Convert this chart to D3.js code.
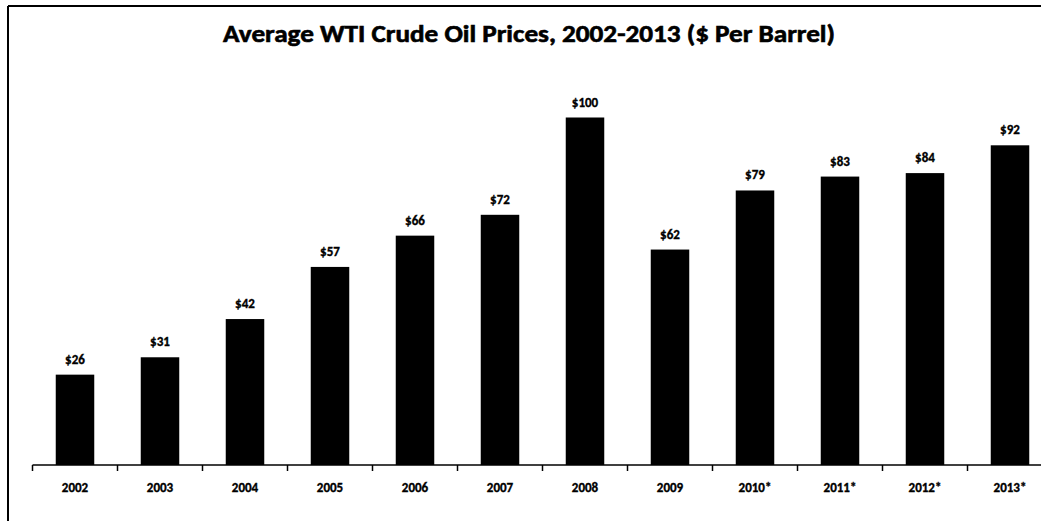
<!DOCTYPE html>
<html>
<head>
<meta charset="utf-8">
<script src="https://cdn.jsdelivr.net/npm/d3@7"></script>
<style>
  html, body { margin: 0; padding: 0; background: #fff; }
  svg { display: block; }
  text { font-family: Carlito, Lato, "Open Sans", sans-serif; font-weight: 700; fill: #000; stroke: #000; stroke-width: 0.35px; }
  text.title { stroke-width: 0.6px; }
</style>
</head>
<body>
<svg id="chart" width="1041" height="521"></svg>
<script>
// Yearly average WTI price, dollars per barrel
const years = ["2002", "2003", "2004", "2005", "2006", "2007", "2008", "2009", "2010*", "2011*", "2012*", "2013*"];
const prices = [26, 31, 42, 57, 66, 72, 100, 62, 79, 83, 84, 92];
const valueLabels = ["$26", "$31", "$42", "$57", "$66", "$72", "$100", "$62", "$79", "$83", "$84", "$92"];
const titleText = "Average WTI Crude Oil Prices, 2002-2013 ($ Per Barrel)";

const W = 1041, H = 521;
const baseY = 465;
const svg = d3.select("#chart");

// Frame: top and left rules
svg.append("line").attr("x1", 8).attr("x2", W).attr("y1", 6).attr("y2", 6)
  .attr("stroke", "#000").attr("stroke-width", 2);
svg.append("line").attr("x1", 8).attr("x2", 8).attr("y1", 6).attr("y2", H)
  .attr("stroke", "#000").attr("stroke-width", 2);

// Title
svg.append("text")
  .attr("class", "title")
  .attr("x", 223).attr("y", 42)
  .attr("font-size", 24)
  .attr("textLength", 612)
  .attr("lengthAdjust", "spacingAndGlyphs")
  .text(titleText);

const x = d3.scaleBand()
  .domain(years)
  .range([32.5, 1052.5])
  .paddingInner(0.547)
  .paddingOuter(0.2735);

const y = d3.scaleLinear().domain([0, 100]).range([baseY, 117.5]);

const data = years.map((yr, i) => ({ yr, v: prices[i], lab: valueLabels[i] }));

// Bars
svg.append("g").selectAll("rect").data(data).join("rect")
  .attr("x", d => x(d.yr))
  .attr("y", d => y(d.v))
  .attr("width", x.bandwidth())
  .attr("height", d => y(0) - y(d.v))
  .attr("fill", "#000");

// Value labels
svg.append("g").selectAll("text").data(data).join("text")
  .attr("x", d => x(d.yr) + x.bandwidth() / 2)
  .attr("y", d => y(d.v) - 11)
  .attr("text-anchor", "middle")
  .attr("font-size", 13)
  .text(d => d.lab);

// Category axis: baseline with ticks between categories
const step = x.step();
const boundaries = years.map(yr => x(yr) - step * x.paddingInner() / 2);
boundaries.push(x(years[years.length - 1]) + x.bandwidth() + step * x.paddingInner() / 2);

svg.append("line")
  .attr("x1", boundaries[0]).attr("x2", W)
  .attr("y1", baseY).attr("y2", baseY)
  .attr("stroke", "#000").attr("stroke-width", 1.5);

svg.append("g").selectAll("line").data(boundaries).join("line")
  .attr("x1", d => d).attr("x2", d => d)
  .attr("y1", baseY).attr("y2", baseY + 6)
  .attr("stroke", "#000").attr("stroke-width", 1.5);

svg.append("g").selectAll("text").data(years).join("text")
  .attr("x", d => x(d) + x.bandwidth() / 2)
  .attr("y", 492)
  .attr("text-anchor", "middle")
  .attr("font-size", 13)
  .text(d => d);
</script>
</body>
</html>
